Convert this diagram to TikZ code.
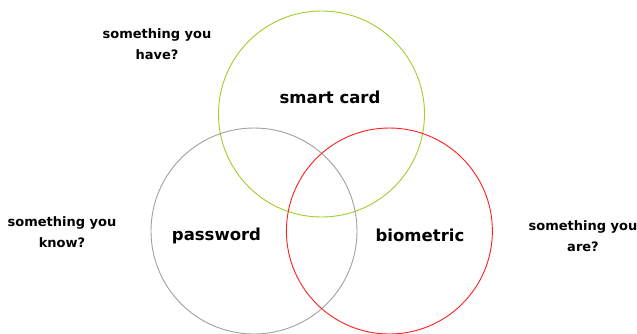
\documentclass[tikz,border=0pt]{standalone}
\usepackage{fontspec}
\setmainfont{DejaVu Sans}
\definecolor{cgreen}{RGB}{160,205,40}
\definecolor{cgray}{RGB}{160,160,160}
\definecolor{cred}{RGB}{255,30,30}
\begin{document}
\begin{tikzpicture}[x=1pt,y=-1pt,
  ring/.style={draw,circle,minimum size=206pt,inner sep=0pt,line width=0.9pt},
  inlabel/.style={font=\fontsize{16.5}{19}\selectfont\bfseries},
  outlabel/.style={font=\fontsize{13}{21}\selectfont\bfseries,align=center}]
\useasboundingbox (0,0) rectangle (637,333);
\node[ring,cgreen] (have) at (321.5,114) {};
\node[ring,cgray] (know) at (254,231) {};
\node[ring,cred] (are) at (389.4,231) {};
\node[inlabel] (sc) at (330,97) {smart card};
\node[inlabel] (pw) at (216.5,236) {password};
\node[inlabel] (bio) at (420,235) {biometric};
\node[outlabel] (qhave) at (157,44.5) {something you\\have?};
\node[outlabel] (qknow) at (62,232.5) {something you\\know?};
\node[outlabel] (qare) at (583,236) {something you\\are?};
\end{tikzpicture}
\end{document}
